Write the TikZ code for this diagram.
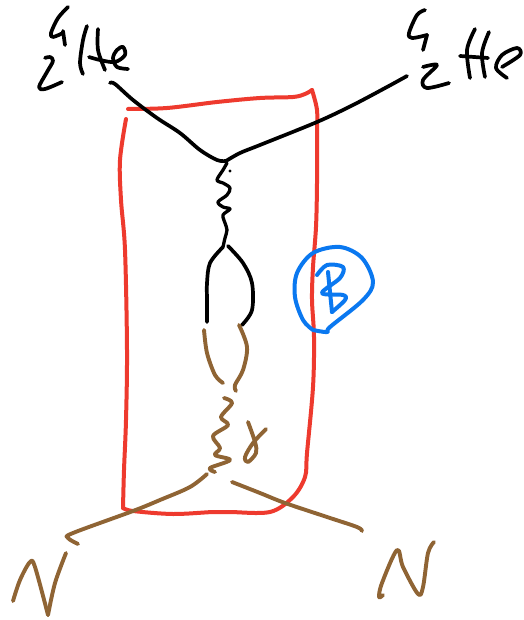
\documentclass[tikz,border=0pt]{standalone}
\definecolor{inkred}{HTML}{EE3A2E}
\definecolor{inkblue}{HTML}{0A78F0}
\definecolor{inkbrown}{HTML}{8F6434}
\tikzset{
  ink/.style={line width=3.7pt,line cap=round,line join=round,smooth,tension=0.55},
  blackink/.style={ink,draw=black},
  redink/.style={ink,draw=inkred,line width=4pt},
  blueink/.style={ink,draw=inkblue,line width=4pt},
  brownink/.style={ink,draw=inkbrown,line width=3.9pt}
}
\begin{document}
\begin{tikzpicture}[x=1pt,y=-1pt]
\useasboundingbox[fill=white] (0,0) rectangle (523,620);
% red box
\draw[redink] plot coordinates {(128,109)(167,108)(217,102)(260,98)(293,97)(305,94)(312,90)};
\draw[redink] plot coordinates {(312,90)(317,110)(317,133)(317,183)(316,227)(313,267)(312,300)(314,337)(313,387)(307,453)(305,477)(293,497)(270,512)(230,512)(213,512)(173,514)(133,511)(123,508)};
\draw[redink] plot coordinates {(123,508)(124,470)(126,420)(127,350)(125,250)(121,200)(120,160)(126,119)};
% blue circle
\draw[blueink] plot coordinates {(313,330)(303,320)(295,297)(297,273)(313,253)(340,247)(362,258)(373,282)(363,300)(330,327)(327,332)(313,330)};
\draw[blueink] plot coordinates {(328,272)(332,312)};
\draw[blueink] plot coordinates {(317,275)(327,265)(343,267)(340,278)(322,293)(343,295)(345,300)(332,312)};
% left He
\draw[blackink] plot coordinates {(68,7)(58,18)(51,33)(53,37)(63,33)};
\draw[blackink] plot coordinates {(63,31)(65,45)};
\draw[blackink] plot coordinates {(45,58)(50,57)(53,61)(47,72)(39,87)(45,89)(62,82)};
\draw[blackink] plot coordinates {(87,26)(83,40)(80,63)(83,74)};
\draw[blackink] plot coordinates {(98,29)(98,50)(105,70)};
\draw[blackink] plot coordinates {(89,57)(100,60)(115,62)(125,55)(123,47)(117,50)(113,58)(117,67)(128,69)};
% right He
\draw[blackink] plot coordinates {(425,10)(417,15)(409,33)(412,38)(427,35)};
\draw[blackink] plot coordinates {(427,35)(423,50)};
\draw[blackink] plot coordinates {(423,67)(437,65)(423,80)(427,88)(449,83)};
\draw[blackink] plot coordinates {(475,29)(467,50)(470,78)};
\draw[blackink] plot coordinates {(489,32)(482,53)(485,77)};
\draw[blackink] plot coordinates {(460,56)(488,58)};
\draw[blackink] plot coordinates {(502,67)(520,55)(517,48)(502,55)(496,68)(507,78)};
% black lines
\draw[blackink] plot coordinates {(110,83)(115,84)(133,100)(157,118)(180,133)(200,150)(217,160)(226,161)};
\draw[blackink] plot coordinates {(226,161)(240,153)(260,145)(317,122)(353,105)(387,87)(407,76)};
\draw[blackink,line width=3.3pt] plot coordinates {(227,163)(223,170)(217,180)(223,183)(230,188)(227,195)(218,202)(223,207)(230,209)(223,215)(225,223)(227,230)(225,238)(223,247)};
\fill[black] (230,171) circle (1.6pt);
\draw[blackink] plot coordinates {(223,247)(210,263)(207,283)(207,300)(207,322)};
\draw[blackink] plot coordinates {(228,246)(243,263)(252,283)(252,310)(242,325)};
% brown
\draw[brownink] plot coordinates {(204,330)(207,353)(215,375)(223,383)};
\draw[brownink] plot coordinates {(239,325)(247,347)(243,370)(235,385)(236,391)};
\draw[brownink] plot coordinates {(224,398)(232,403)(221,417)(228,425)(213,436)(220,448)(215,455)(230,460)(210,468)(215,472)};
\draw[brownink] plot coordinates {(248,422)(255,442)(256,453)(248,462)(245,457)(253,443)(266,429)};
\draw[brownink] plot coordinates {(207,474)(190,487)(160,500)(133,511)(73,533)(68,538)(78,544)};
\draw[brownink] plot coordinates {(13,601)(20,580)(30,562)(35,567)(48,615)};
\draw[brownink] plot coordinates {(48,615)(55,583)(66,553)};
\draw[brownink] plot coordinates {(232,482)(260,493)(285,503)(327,517)(357,527)(362,531)};
\draw[brownink] plot coordinates {(383,595)(379,597)(382,583)(397,550)(403,567)(418,594)(423,587)(428,553)(434,542)};
\end{tikzpicture}
\end{document}
